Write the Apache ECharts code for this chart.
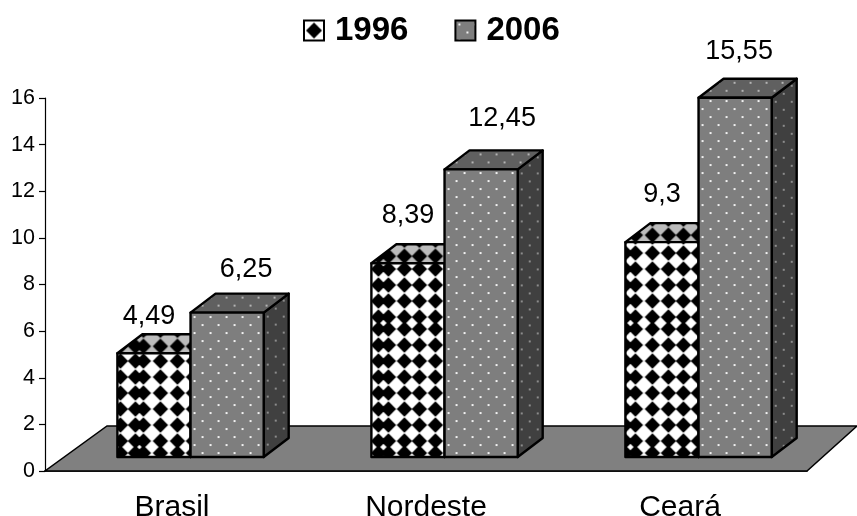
<!DOCTYPE html>
<html>
<head>
<meta charset="utf-8">
<script src="https://cdn.jsdelivr.net/npm/echarts@6/dist/echarts.min.js"></script>
<style>
  html, body { margin: 0; padding: 0; background: #ffffff; }
  #myChart { width: 857px; height: 516px; }
</style>
</head>
<body>
<div id="myChart"></div>
<script>
const categories = ['Brasil', 'Nordeste', 'Ceará']
const values1996 = [4.49, 8.39, 9.3]
const values2006 = [6.25, 12.45, 15.55]
const yTickMax = 16

// label shift from the middle of the front face top, the picture has them hand placed
const labelShift1996 = [[-5, -37], [0, -48], [0, -48]]
const labelShift2006 = [[19, -43], [21, -51], [4, -46]]

// where the diamond columns fall across each 1996 bar, the fill has a seam so they are uneven
const diamondCols = [[3, 18, 26, 43, 60, 76], [7, 17, 33, 48, 64, 80], [0, 10, 27, 43, 58, 73]]
// rows inside the 124px tile, which starts on the bar base
const diamondRows = [12, 28, 44, 60, 76, 92, 108, 120]

const FONT = '"Liberation Sans", Arial, sans-serif'
const DEPTH_X = 25
const DEPTH_Y = 19
const BAR_TILE_W = 74

function diamondTile(bg, cols, rows, tileW, tileH, r) {
  const c = document.createElement('canvas')
  c.width = tileW
  c.height = tileH
  const ctx = c.getContext('2d')
  ctx.fillStyle = bg
  ctx.fillRect(0, 0, tileW, tileH)
  ctx.filter = 'blur(0.5px)'
  ctx.fillStyle = '#000000'
  rows.forEach(ry => {
    cols.forEach(cx => {
      ;[-tileH, 0, tileH].forEach(wrap => {
        const cy = ry + wrap
        ctx.beginPath()
        ctx.moveTo(cx, cy - r)
        ctx.lineTo(cx + r, cy)
        ctx.lineTo(cx, cy + r)
        ctx.lineTo(cx - r, cy)
        ctx.closePath()
        ctx.fill()
      })
    })
  })
  return { image: c, repeat: 'repeat' }
}

// flat grey tile with small staggered dots
function dotTile(bg, fg) {
  const c = document.createElement('canvas')
  c.width = 16
  c.height = 16
  const ctx = c.getContext('2d')
  ctx.fillStyle = bg
  ctx.fillRect(0, 0, 16, 16)
  ctx.filter = 'blur(0.4px)'
  ctx.fillStyle = fg
  ctx.fillRect(3, 3, 2, 2)
  ctx.fillRect(11, 11, 2, 2)
  return { image: c, repeat: 'repeat' }
}

const front1996 = diamondCols.map(cols => diamondTile('#ffffff', cols, diamondRows, BAR_TILE_W, 124, 7.7))
const top1996 = diamondCols.map(cols => diamondTile('#bcbcbc', cols, [12], BAR_TILE_W, 16, 7.7))
const side1996 = diamondTile('#808080', [8], [8], 16, 16, 7.7)
const legend1996 = diamondTile('#ffffff', [10], [10], 20, 20, 8)

const front2006 = dotTile('#7e7e7e', '#f2f2f2')
const top2006 = dotTile('#606060', '#b4b4b4')
const side2006 = dotTile('#404040', '#8c8c8c')

function barRenderer(frontFill, topFill, sideFill, side, labelShift) {
  return function(params, api) {
    const idx = api.value(0)
    const val = api.value(1)
    const top = api.coord([idx, val])
    const base = api.coord([idx, 0])
    const band = api.size([1, 0])[0]
    const w = band * 0.288
    const mid = top[0] + band * 0.073
    const x0 = side === 'left' ? mid - w : mid
    const h = base[1] - top[1]
    const edge = { stroke: '#000000', lineWidth: 2.4, lineJoin: 'round' }
    const shift = labelShift[params.dataIndex]
    return {
      type: 'group',
      children: [
        {
          type: 'polygon',
          x: x0 + w,
          y: top[1],
          shape: { points: [[0, 0], [DEPTH_X, -DEPTH_Y], [DEPTH_X, h - DEPTH_Y], [0, h]] },
          style: Object.assign({ fill: sideFill }, edge)
        },
        {
          type: 'polygon',
          x: x0,
          y: top[1] - DEPTH_Y,
          shape: { points: [[0, DEPTH_Y], [DEPTH_X, 0], [w + DEPTH_X, 0], [w, DEPTH_Y]] },
          style: Object.assign({ fill: Array.isArray(topFill) ? topFill[params.dataIndex] : topFill }, edge)
        },
        {
          // origin on the base so the fill rows line up between the bars
          type: 'polygon',
          x: x0,
          y: base[1],
          shape: { points: [[0, -h], [w, -h], [w, 0], [0, 0]] },
          style: Object.assign({ fill: Array.isArray(frontFill) ? frontFill[params.dataIndex] : frontFill }, edge)
        },
        {
          type: 'text',
          x: x0 + w / 2 + shift[0],
          y: top[1] + shift[1],
          style: {
            text: String(val).replace('.', ','),
            font: '27px ' + FONT,
            fill: '#000000',
            textAlign: 'center',
            textVerticalAlign: 'middle'
          }
        }
      ]
    }
  }
}

function floorRenderer(params) {
  const g = params.coordSys
  const yb = g.y + g.height
  return {
    type: 'polygon',
    shape: { points: [[g.x, yb], [g.x + g.width, yb], [g.x + g.width + 50, yb - 45], [g.x + 62, yb - 45]] },
    style: { fill: '#808080', stroke: '#000000', lineWidth: 1.5 }
  }
}

const myChart = echarts.init(document.getElementById('myChart'), null, { renderer: 'canvas' })
myChart.setOption({
  animation: false,
  backgroundColor: '#ffffff',
  legend: {
    left: 303,
    top: 14,
    padding: 0,
    itemWidth: 20,
    itemHeight: 20,
    itemGap: 46,
    textStyle: { fontFamily: FONT, fontSize: 33, fontWeight: 'bold', color: '#000000', padding: [0, 0, 0, 6] },
    data: [
      { name: '1996', icon: 'rect', itemStyle: { color: legend1996, borderColor: '#000000', borderWidth: 2 } },
      { name: '2006', icon: 'rect', itemStyle: { color: front2006, borderColor: '#000000', borderWidth: 2 } }
    ]
  },
  grid: { left: 45, top: 98, width: 762, height: 373, outerBoundsMode: 'none' },
  xAxis: {
    type: 'category',
    data: categories,
    axisLine: { lineStyle: { color: '#000000', width: 1.5 } },
    axisTick: { length: 7, lineStyle: { color: '#000000', width: 1.2 } },
    axisLabel: { color: '#000000', fontFamily: FONT, fontSize: 30, margin: 22 }
  },
  yAxis: [
    {
      type: 'value',
      min: 0,
      max: yTickMax,
      interval: 2,
      splitLine: { show: false },
      axisLine: { show: true, lineStyle: { color: '#000000', width: 1.2 } },
      axisTick: { show: true, length: 6, lineStyle: { color: '#000000', width: 1.2 } },
      axisLabel: { color: '#000000', fontFamily: FONT, fontSize: 21.5, margin: 10, padding: [2, 0, 0, 0] }
    },
    {
      // bars stand on the raised floor and run a little shorter than the printed scale
      type: 'value',
      show: false,
      min: -0.606,
      max: 15.541,
      splitLine: { show: false }
    }
  ],
  series: [
    {
      type: 'custom',
      name: 'floor',
      z: 1,
      renderItem: floorRenderer,
      silent: true,
      data: [[0, 0]]
    },
    {
      type: 'custom',
      name: '1996',
      z: 3,
      yAxisIndex: 1,
      renderItem: barRenderer(front1996, top1996, side1996, 'left', labelShift1996),
      data: values1996.map((v, i) => [i, v])
    },
    {
      type: 'custom',
      name: '2006',
      z: 4,
      yAxisIndex: 1,
      renderItem: barRenderer(front2006, top2006, side2006, 'right', labelShift2006),
      data: values2006.map((v, i) => [i, v])
    }
  ]
})
window.addEventListener('resize', function() {
  myChart.resize()
})
</script>
</body>
</html>
